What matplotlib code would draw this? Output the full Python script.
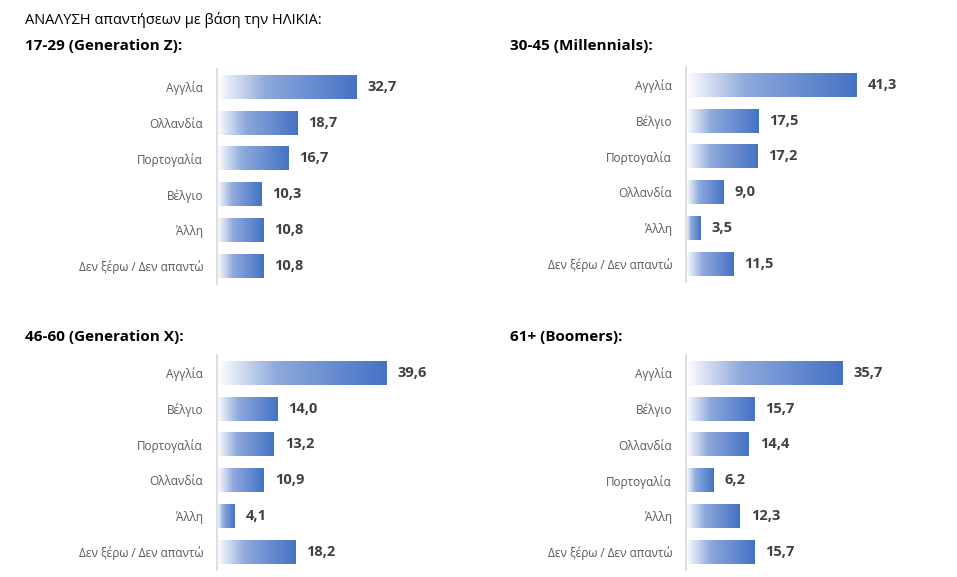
import numpy as np
import matplotlib
matplotlib.use("Agg")
import matplotlib.pyplot as plt
from matplotlib.colors import LinearSegmentedColormap

plt.rcParams['font.family'] = ['Open Sans', 'DejaVu Sans']

# --- data ---
title = "ΑΝΑΛΥΣΗ απαντήσεων με βάση την ΗΛΙΚΙΑ:"

gen_z_title = "17-29 (Generation Z):"
gen_z_labels = ["Αγγλία", "Ολλανδία", "Πορτογαλία", "Βέλγιο", "Άλλη", "Δεν ξέρω / Δεν απαντώ"]
gen_z_values = [32.7, 18.7, 16.7, 10.3, 10.8, 10.8]

mill_title = "30-45 (Millennials):"
mill_labels = ["Αγγλία", "Βέλγιο", "Πορτογαλία", "Ολλανδία", "Άλλη", "Δεν ξέρω / Δεν απαντώ"]
mill_values = [41.3, 17.5, 17.2, 9.0, 3.5, 11.5]

gen_x_title = "46-60 (Generation X):"
gen_x_labels = ["Αγγλία", "Βέλγιο", "Πορτογαλία", "Ολλανδία", "Άλλη", "Δεν ξέρω / Δεν απαντώ"]
gen_x_values = [39.6, 14.0, 13.2, 10.9, 4.1, 18.2]

boom_title = "61+ (Boomers):"
boom_labels = ["Αγγλία", "Βέλγιο", "Ολλανδία", "Πορτογαλία", "Άλλη", "Δεν ξέρω / Δεν απαντώ"]
boom_values = [35.7, 15.7, 14.4, 6.2, 12.3, 15.7]

W, H = 957, 577
fig = plt.figure(figsize=(W / 100, H / 100), dpi=100)

cmap = LinearSegmentedColormap.from_list(
    "grad", [(0, "#ffffff"), (0.35, "#8ea9dc"), (1, "#4472c4")])
grad = np.linspace(0, 1, 256).reshape(1, -1)

xmax = 45


def panel(left_px, top_px, scale, heading, heading_x, heading_y, labels, values):
    n = len(labels)
    h_px = n * 35.8
    ax = fig.add_axes([left_px / W, 1 - (top_px + h_px) / H,
                       xmax * scale / W, h_px / H])
    y = np.arange(n)
    bars = ax.barh(y, values, height=0.67, color="none")
    pad = 11 / scale
    for b, v in zip(bars, values):
        y0 = b.get_y()
        ax.imshow(grad, cmap=cmap, aspect="auto", interpolation="bicubic",
                  extent=(0, v, y0 + b.get_height(), y0), zorder=2)
        ax.text(v + pad, b.get_y() + b.get_height() / 2,
                f"{v:.1f}".replace(".", ","), va="center", ha="left",
                fontsize=10.5, fontweight="bold", color="#404040")
    ax.set_xlim(0, xmax)
    ax.set_ylim(n - 0.5, -0.5)
    ax.set_yticks(y)
    ax.set_yticklabels(labels, fontsize=8.5, color="#595959")
    ax.tick_params(axis="y", length=0, pad=10)
    ax.set_xticks([])
    for s in ["top", "right", "bottom"]:
        ax.spines[s].set_visible(False)
    ax.spines["left"].set_color("#d9d9d9")
    ax.spines["left"].set_linewidth(1.2)
    ax.set_facecolor("none")
    fig.text(heading_x / W, 1 - heading_y / H, heading, fontsize=11,
             fontweight="bold", color="black", va="center", ha="left")


fig.text(25 / W, 1 - 20 / H, title, fontsize=10.5, color="black",
         va="center", ha="left")

panel(217, 69, 4.28, gen_z_title, 25, 46, gen_z_labels, gen_z_values)
panel(686, 67, 4.14, mill_title, 510, 46, mill_labels, mill_values)
panel(217, 355, 4.29, gen_x_title, 25, 337, gen_x_labels, gen_x_values)
panel(686, 355, 4.37, boom_title, 510, 337, boom_labels, boom_values)

fig.savefig("out.png", dpi=100, facecolor="white")
